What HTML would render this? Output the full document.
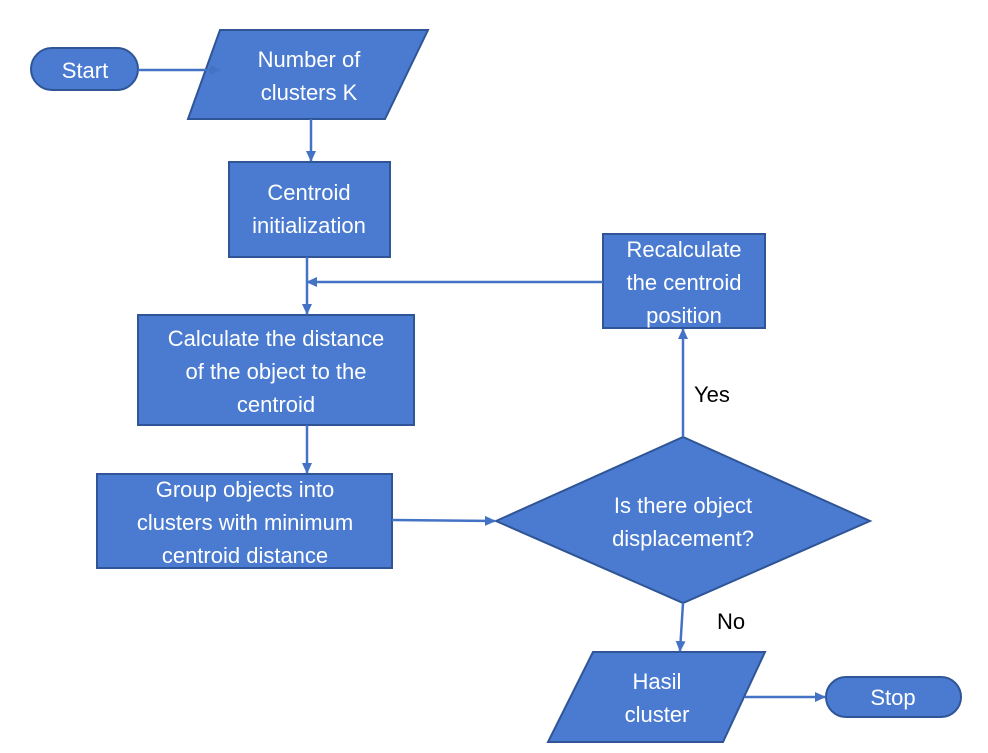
<!DOCTYPE html>
<html><head><style>
html,body{margin:0;padding:0;background:#fff;}
svg{display:block;}
text{font-family:"Liberation Sans",sans-serif;font-size:22px;}
.w{fill:#fff;text-anchor:middle;}
.s{fill:#4a7bd0;stroke:#2f5597;stroke-width:2;}
.l{stroke:#4472c4;stroke-width:2.5;fill:none;}
</style></head><body>
<svg width="988" height="753" viewBox="0 0 988 753">
<defs><marker id="a" markerWidth="12" markerHeight="12" refX="10" refY="6" orient="auto" markerUnits="userSpaceOnUse"><path d="M0,1 L11,6 L0,11 z" fill="#4472c4"/></marker></defs>
<!-- shapes -->
<rect class="s" x="31" y="48" width="107" height="42" rx="21"/>
<text class="w" x="85" y="78">Start</text>
<polygon class="s" points="220,30 428,30 385,119 188,119"/>
<text class="w" x="309" y="67">Number of</text>
<text class="w" x="309" y="100">clusters K</text>
<rect class="s" x="229" y="162" width="161" height="95"/>
<text class="w" x="309" y="200">Centroid</text>
<text class="w" x="309" y="233">initialization</text>
<rect class="s" x="603" y="234" width="162" height="94"/>
<text class="w" x="684" y="257">Recalculate</text>
<text class="w" x="684" y="290">the centroid</text>
<text class="w" x="684" y="323">position</text>
<rect class="s" x="138" y="315" width="276" height="110"/>
<text class="w" x="276" y="346">Calculate the distance</text>
<text class="w" x="276" y="379">of the object to the</text>
<text class="w" x="276" y="412">centroid</text>
<rect class="s" x="97" y="474" width="295" height="94"/>
<text class="w" x="245" y="497">Group objects into</text>
<text class="w" x="245" y="530">clusters with minimum</text>
<text class="w" x="245" y="563">centroid distance</text>
<polygon class="s" points="496,521 683,437 870,521 683,603"/>
<text class="w" x="683" y="513">Is there object</text>
<text class="w" x="683" y="546">displacement?</text>
<text x="694" y="402" fill="#000">Yes</text>
<text x="717" y="629" fill="#000">No</text>
<polygon class="s" points="593,652 765,652 723,742 548,742"/>
<text class="w" x="657" y="689">Hasil</text>
<text class="w" x="657" y="722">cluster</text>
<rect class="s" x="826" y="677" width="135" height="40" rx="20"/>
<text class="w" x="893" y="705">Stop</text>
<!-- connectors -->
<line class="l" x1="138" y1="70" x2="220" y2="70" marker-end="url(#a)"/>
<line class="l" x1="311" y1="119" x2="311" y2="161" marker-end="url(#a)"/>
<line class="l" x1="307" y1="257" x2="307" y2="314" marker-end="url(#a)"/>
<line class="l" x1="603" y1="282" x2="307" y2="282" marker-end="url(#a)"/>
<line class="l" x1="307" y1="425" x2="307" y2="473" marker-end="url(#a)"/>
<line class="l" x1="392" y1="520" x2="495" y2="521" marker-end="url(#a)"/>
<line class="l" x1="683" y1="437" x2="683" y2="329" marker-end="url(#a)"/>
<line class="l" x1="683" y1="603" x2="680" y2="651" marker-end="url(#a)"/>
<line class="l" x1="745" y1="697" x2="825" y2="697" marker-end="url(#a)"/>
</svg>
</body></html>
